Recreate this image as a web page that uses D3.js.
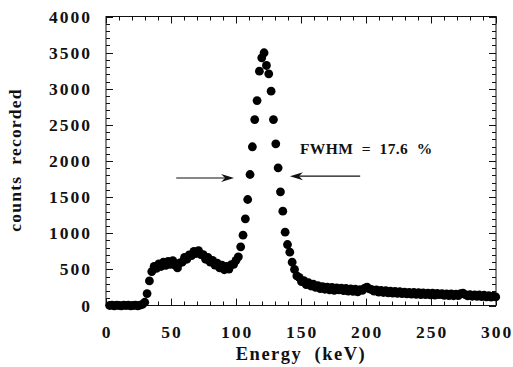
<!DOCTYPE html>
<html><head><meta charset="utf-8">
<script src="https://cdn.jsdelivr.net/npm/d3@7/dist/d3.min.js"></script>
<style>
html,body{margin:0;padding:0;background:#fff;}
svg{display:block;}
text{font-family:"Liberation Serif","Times New Roman",serif;font-weight:bold;fill:#111;}
</style></head>
<body><svg id="c" width="513" height="367"></svg>
<script>
// Channel energies (keV) and counts
const energy = [2.8,4.6,6.4,8.2,10.0,11.8,13.6,15.4,17.2,19.0,20.8,22.6,24.4,26.2,28.0,29.8,31.6,33.4,35.2,37.0,
38.8,40.6,42.4,44.2,46.0,47.8,49.6,51.4,53.2,55.0,56.8,58.6,60.4,62.2,64.0,65.8,67.6,69.4,71.2,73.0,
74.8,76.6,78.4,80.2,82.0,83.8,85.6,87.4,89.2,91.0,92.8,94.6,96.4,98.2,100.0,101.8,103.6,105.4,107.2,109.0,
110.8,112.6,114.4,116.2,118.0,119.8,121.6,123.4,125.2,127.0,128.8,130.6,132.4,134.2,136.0,137.8,139.6,141.4,143.2,145.0,
146.8,148.6,150.4,152.2,154.0,155.8,157.6,159.4,161.2,163.0,164.8,166.6,168.4,170.2,172.0,173.8,175.6,177.4,179.2,181.0,
182.8,184.6,186.4,188.2,190.0,191.8,193.6,195.4,197.2,199.0,200.8,202.6,204.4,206.2,208.0,209.8,211.6,213.4,215.2,217.0,
218.8,220.6,222.4,224.2,226.0,227.8,229.6,231.4,233.2,235.0,236.8,238.6,240.4,242.2,244.0,245.8,247.6,249.4,251.2,253.0,
254.8,256.6,258.4,260.2,262.0,263.8,265.6,267.4,269.2,271.0,272.8,274.6,276.4,278.2,280.0,281.8,283.6,285.4,287.2,289.0,
290.8,292.6,294.4,296.2,298.0,299.8];
const counts = [0,5,-5,5,0,-5,5,0,5,-5,0,5,-5,5,15,45,165,340,470,540,
515,575,540,600,555,610,570,620,560,520,590,600,665,640,700,690,750,720,760,705,
705,640,665,600,625,560,585,520,560,495,540,505,565,570,625,674,812,973,1200,1467,
1813,2197,2574,2837,3243,3428,3498,3322,3207,2966,2574,2238,1906,1574,1305,1015,844,738,600,500,
410,390,330,345,290,315,270,295,250,275,235,260,225,255,215,250,210,245,215,240,
205,235,200,230,195,225,190,220,210,240,255,230,220,200,215,185,210,180,205,175,
200,172,195,168,190,165,185,160,183,158,180,155,178,152,175,150,172,148,170,145,
168,150,165,140,162,138,160,135,158,136,165,170,150,132,150,128,148,125,145,122,
142,118,138,115,130,118];
const xTicks = [0,50,100,150,200,250,300];
const yTicks = [0,500,1000,1500,2000,2500,3000,3500,4000];
const xLabel = "Energy  (keV)";
const yLabel = "counts  recorded";
const note = "FWHM  =  17.6  %";
// annotation anchors in data units
const leftArrow = [[54,1765],[98.5,1765]];
const rightArrow = [[195.5,1790],[141.5,1790]];
const noteAt = [149.2,2100];

const svg = d3.select("#c");
const L=106, R=496, T=16.5, B=305.5;
const x = d3.scaleLinear().domain([0,300]).range([L,R]);
const y = d3.scaleLinear().domain([0,4000]).range([B,T]);

const ink="#111";
svg.append("rect").attr("x",L).attr("y",T).attr("width",R-L).attr("height",B-T)
  .attr("fill","none").attr("stroke",ink).attr("stroke-width",1);

const xMinor = d3.range(0,301,10), yMinor = d3.range(0,4001,100);
const tg = svg.append("g").attr("stroke",ink).attr("stroke-width",1);
xMinor.forEach(v=>{
  const m = v%50===0, len = m?7:4, px = Math.round(x(v))+0.5;
  tg.append("line").attr("x1",px).attr("x2",px).attr("y1",B).attr("y2",B-len);
  tg.append("line").attr("x1",px).attr("x2",px).attr("y1",T).attr("y2",T+len);
});
yMinor.forEach(v=>{
  const m = v%500===0, len = m?7:4, py = Math.round(y(v))+0.5;
  tg.append("line").attr("x1",L).attr("x2",L+len).attr("y1",py).attr("y2",py);
  tg.append("line").attr("x1",R).attr("x2",R-len).attr("y1",py).attr("y2",py);
});

svg.append("g").selectAll("text").data(xTicks).join("text")
  .attr("x",d=>x(d)+1).attr("y",338).attr("text-anchor","middle")
  .attr("font-size",17.5).attr("letter-spacing",2).text(d=>d);
svg.append("g").selectAll("text").data(yTicks).join("text")
  .attr("x",92).attr("y",d=>y(d)+6).attr("text-anchor","end")
  .attr("font-size",17.5).attr("letter-spacing",2).text(d=>d);

svg.append("text").attr("x",301).attr("y",360).attr("text-anchor","middle")
  .attr("font-size",18.5).attr("letter-spacing",1.5).style("white-space","pre").text(xLabel);
svg.append("text").attr("transform","translate(21,160) rotate(-90)").attr("text-anchor","middle")
  .attr("font-size",17.5).attr("letter-spacing",1.2).style("white-space","pre").text(yLabel);

svg.append("g").selectAll("circle").data(energy.map((e,i)=>[e,counts[i]])).join("circle")
  .attr("cx",d=>x(d[0])).attr("cy",d=>y(d[1])).attr("r",4.4).attr("fill","#000");

function arrow(a){
  const x1=x(a[0][0]), y1=y(a[0][1]), x2=x(a[1][0]), y2=y(a[1][1]);
  const dir = Math.sign(x2-x1);
  svg.append("line").attr("x1",x1).attr("y1",y1).attr("x2",x2-dir*6).attr("y2",y2)
    .attr("stroke",ink).attr("stroke-width",1.2);
  svg.append("path").attr("d",`M${x2},${y2} L${x2-dir*13},${y2-4} L${x2-dir*9},${y2} L${x2-dir*13},${y2+4} Z`)
    .attr("fill",ink);
}
arrow(leftArrow); arrow(rightArrow);

svg.append("text").attr("x",x(noteAt[0])).attr("y",y(noteAt[1]))
  .attr("font-size",15.5).attr("letter-spacing",0.4).style("white-space","pre").text(note);
</script></body></html>
